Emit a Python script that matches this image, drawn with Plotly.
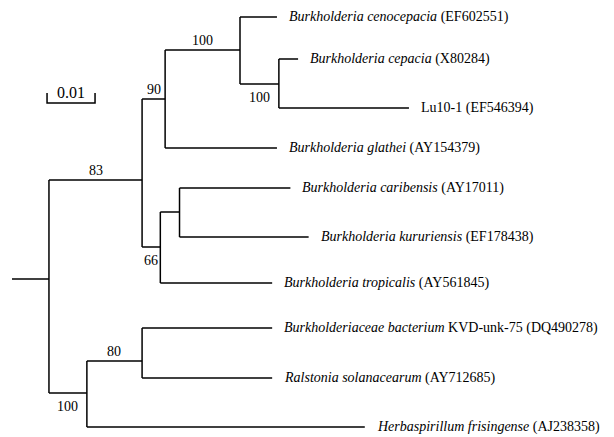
import plotly.graph_objects as go

# ---- tree data (branch lengths in substitutions/site) ----
node_ids = ["root", "n83", "n90", "n100a", "ceno", "n100b", "cep", "lu",
            "glathei", "n66", "ncar", "carib", "kuru", "trop",
            "n100c", "n80", "bact", "ral", "herb"]
parents = [None, "root", "n83", "n90", "n100a", "n100a", "n100b", "n100b",
           "n90", "n83", "n66", "ncar", "ncar", "n66",
           "root", "n100c", "n80", "n80", "n100c"]
branch_len = [0.0077, 0.0194, 0.0048, 0.0156, 0.0077, 0.0081, 0.0040, 0.0271,
              0.0233, 0.0038, 0.0040, 0.0231, 0.0269, 0.0233,
              0.0079, 0.0115, 0.0271, 0.0271, 0.0579]
# vertical lane of each node (tree layout order, top = small)
lane = [279, 180, 99, 50, 17, 84, 59, 108,
        148, 247, 212, 188, 237, 283,
        393, 361, 328, 378, 427]

leaf_labels = {
    "ceno": "<i>Burkholderia cenocepacia</i> (EF602551)",
    "cep": "<i>Burkholderia cepacia</i> (X80284)",
    "lu": "Lu10-1 (EF546394)",
    "glathei": "<i>Burkholderia glathei</i> (AY154379)",
    "carib": "<i>Burkholderia caribensis</i> (AY17011)",
    "kuru": "<i>Burkholderia kururiensis</i> (EF178438)",
    "trop": "<i>Burkholderia tropicalis</i> (AY561845)",
    "bact": "<i>Burkholderiaceae bacterium</i> KVD-unk-75 (DQ490278)",
    "ral": "<i>Ralstonia solanacearum</i> (AY712685)",
    "herb": "<i>Herbaspirillum frisingense</i> (AJ238358)",
}
support_nodes = ["n100a", "n90", "n83", "n100b", "n66", "n80", "n100c"]
support_values = [100, 90, 83, 100, 66, 80, 100]
support_side = ["above", "above", "above", "below", "below", "above", "below"]

scale_len = 0.01
scale_label = "0.01"
scale_start = 0.0073
scale_lane = 103

# ---- compute node x positions ----
idx = {n: i for i, n in enumerate(node_ids)}
xpos = {}
def get_x(n):
    if n in xpos:
        return xpos[n]
    i = idx[n]
    p = parents[i]
    base = 0.0 if p is None else get_x(p)
    xpos[n] = base + branch_len[i]
    return xpos[n]
for n in node_ids:
    get_x(n)
ypos = {n: lane[idx[n]] for n in node_ids}
parent_x = {n: (0.0 if parents[idx[n]] is None else xpos[parents[idx[n]]]) for n in node_ids}

xs, ys = [], []
for n in node_ids:
    xs += [parent_x[n], xpos[n], None]
    ys += [ypos[n], ypos[n], None]
children = {}
for n in node_ids:
    p = parents[idx[n]]
    if p is not None:
        children.setdefault(p, []).append(n)
for p, ch in children.items():
    cy = [ypos[c] for c in ch]
    xs += [xpos[p], xpos[p], None]
    ys += [min(cy), max(cy), None]

fig = go.Figure()
fig.add_trace(go.Scatter(x=xs, y=ys, mode="lines",
                         line=dict(color="black", width=1.5),
                         hoverinfo="skip", showlegend=False))

fig.add_trace(go.Scatter(
    x=[scale_start, scale_start, scale_start + scale_len, scale_start + scale_len],
    y=[scale_lane - 10, scale_lane, scale_lane, scale_lane - 10],
    mode="lines", line=dict(color="black", width=1.5),
    hoverinfo="skip", showlegend=False))

font_main = dict(family="Liberation Serif, Times New Roman, serif", size=14, color="black")
font_num = dict(family="Liberation Serif, Times New Roman, serif", size=14, color="black")

annotations = []
for n, txt in leaf_labels.items():
    annotations.append(dict(x=xpos[n], y=ypos[n], text=txt, showarrow=False,
                            xanchor="left", yanchor="middle", xshift=10, yshift=0,
                            font=font_main))
for n, v, side in zip(support_nodes, support_values, support_side):
    annotations.append(dict(x=(parent_x[n] + xpos[n]) / 2, y=ypos[n], text=str(v),
                            showarrow=False, xanchor="center", yanchor="middle",
                            yshift=(10 if side == "above" else -13),
                            font=font_num))
annotations.append(dict(x=scale_start + scale_len / 2, y=scale_lane, text=scale_label,
                        showarrow=False, xanchor="center", yanchor="middle",
                        yshift=11, font=dict(family="Liberation Serif, serif", size=16, color="black")))

# page body has an 8px margin, so the figure is 606x429 and offset by 8px
fig.update_layout(
    width=606, height=429,
    margin=dict(l=0, r=0, t=0, b=0),
    paper_bgcolor="white", plot_bgcolor="white",
    xaxis=dict(range=[-4 / 4800, 602 / 4800], visible=False, fixedrange=True),
    yaxis=dict(range=[437, 8], visible=False, fixedrange=True),
    annotations=annotations,
)
fig.write_html("out.html")
